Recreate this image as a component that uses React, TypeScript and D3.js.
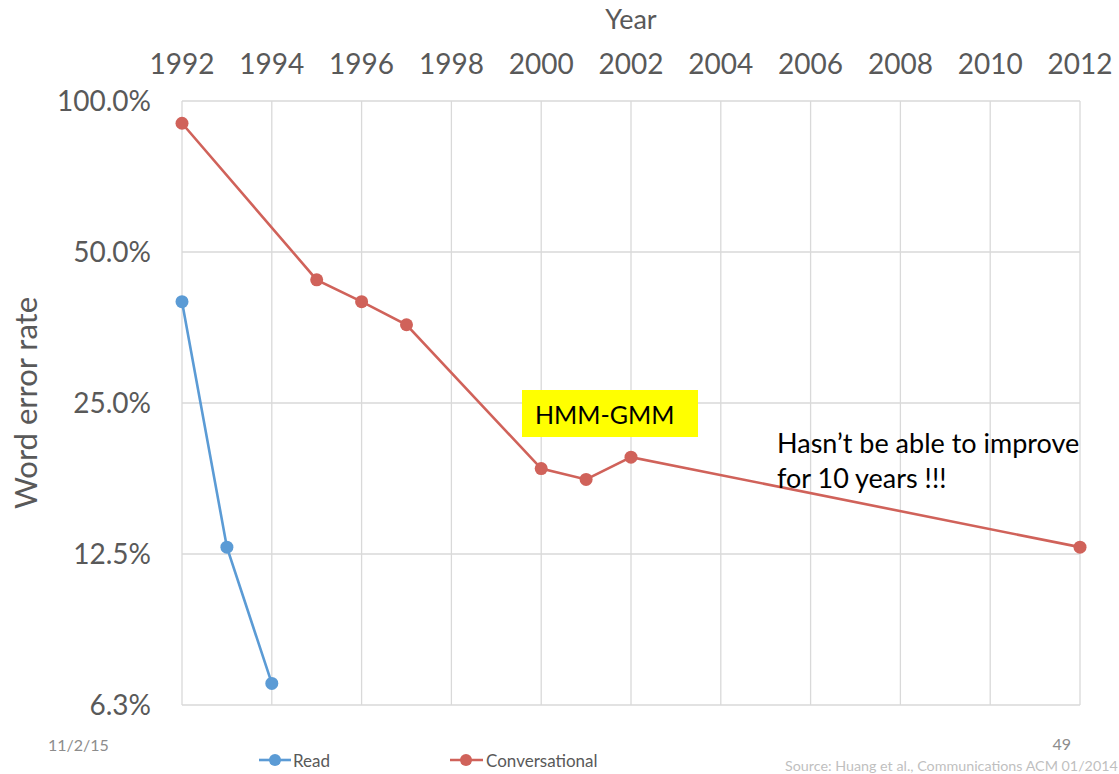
import React from "react";
import * as d3 from "d3";

const yearTicks = [1992, 1994, 1996, 1998, 2000, 2002, 2004, 2006, 2008, 2010, 2012];
const rateTicks = [100, 50, 25, 12.5, 6.25];
const rateTickLabels = ["100.0%", "50.0%", "25.0%", "12.5%", "6.3%"];

const readYears = [1992, 1993, 1994];
const readValues = [39.8, 12.9, 6.9];

const convYears = [1992, 1995, 1996, 1997, 2000, 2001, 2002, 2012];
const convValues = [90.3, 44.0, 39.8, 35.8, 18.5, 17.6, 19.5, 12.9];

const READ_COLOR = "#5B9BD5";
const CONV_COLOR = "#D0625A";
const FONT = "Lato, 'Open Sans', sans-serif";

export default function App() {
  const W = 1119, H = 774;
  const x = d3.scaleLinear().domain([1992, 2012]).range([182, 1080]);
  const y = d3.scaleLog().base(2).domain([6.25, 100]).range([705, 101]);
  const line = d3
    .line<[number, number]>()
    .x((d) => x(d[0]))
    .y((d) => y(d[1]));
  const readPts = readYears.map((yr, i) => [yr, readValues[i]] as [number, number]);
  const convPts = convYears.map((yr, i) => [yr, convValues[i]] as [number, number]);

  return (
    <svg
      width={W}
      height={H}
      style={{ position: "absolute", left: 0, top: 0, background: "#fff" }}
      fontFamily={FONT}
    >
      {/* grid */}
      {yearTicks.map((t) => (
        <line key={"vx" + t} x1={x(t)} x2={x(t)} y1={y(100)} y2={y(6.25)} stroke="#D9D9D9" strokeWidth={1.3} />
      ))}
      {rateTicks.map((t) => (
        <line key={"hy" + t} x1={x(1992)} x2={x(2012)} y1={y(t)} y2={y(t)} stroke="#D9D9D9" strokeWidth={1.3} />
      ))}
      {/* x tick labels (top) */}
      {yearTicks.map((t) => (
        <text key={"xl" + t} x={x(t)} y={74} textAnchor="middle" fontSize={28} fill="#595959">
          {t}
        </text>
      ))}
      <text x={631} y={29} textAnchor="middle" fontSize={27} fill="#595959">Year</text>
      {/* y tick labels */}
      {rateTicks.map((t, i) => (
        <text key={"yl" + t} x={151} y={y(t) + 10} textAnchor="end" fontSize={28} fill="#595959">
          {rateTickLabels[i]}
        </text>
      ))}
      <text
        transform={`translate(37,${403}) rotate(-90)`}
        textAnchor="middle"
        fontSize={31}
        fill="#595959"
      >
        Word error rate
      </text>
      {/* series */}
      <path d={line(readPts) || ""} fill="none" stroke={READ_COLOR} strokeWidth={2.6} />
      <path d={line(convPts) || ""} fill="none" stroke={CONV_COLOR} strokeWidth={2.6} />
      {readPts.map((p, i) => (
        <circle key={"rp" + i} cx={x(p[0])} cy={y(p[1])} r={6.5} fill={READ_COLOR} />
      ))}
      {convPts.map((p, i) => (
        <circle key={"cp" + i} cx={x(p[0])} cy={y(p[1])} r={6.5} fill={CONV_COLOR} />
      ))}
      {/* annotations */}
      <rect x={522} y={390} width={176} height={47} fill="#FFFF00" />
      <text x={535} y={424} fontSize={25} fill="#000">HMM-GMM</text>
      <text x={777} y={453} fontSize={27} fill="#000">Hasn’t be able to improve</text>
      <text x={777} y={488} fontSize={27} fill="#000">for 10 years !!!</text>
      {/* legend */}
      <line x1={259} x2={291} y1={760} y2={760} stroke={READ_COLOR} strokeWidth={2.6} />
      <circle cx={275} cy={760} r={6} fill={READ_COLOR} />
      <text x={293} y={767} fontSize={17} fill="#595959">Read</text>
      <line x1={450} x2={483} y1={760} y2={760} stroke={CONV_COLOR} strokeWidth={2.6} />
      <circle cx={466} cy={760} r={6} fill={CONV_COLOR} />
      <text x={486} y={767} fontSize={17} fill="#595959">Conversational</text>
      {/* footer */}
      <text x={48} y={751} fontSize={16} fill="#8C8C8C">11/2/15</text>
      <text x={1071} y={750} textAnchor="end" fontSize={16} fill="#8C8C8C">49</text>
      <text x={785} y={771} fontSize={14.3} fill="#BFBFBF">Source: Huang et al., Communications ACM 01/2014</text>
    </svg>
  );
}
